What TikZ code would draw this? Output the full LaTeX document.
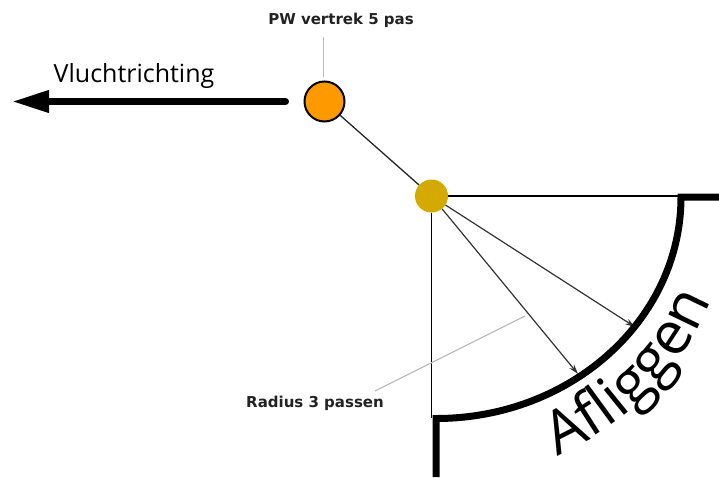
\documentclass[tikz,border=0pt]{standalone}
\usepackage{fontspec}
\usepackage{xcolor}
\usetikzlibrary{arrows.meta,decorations.text}
\newfontfamily\labelfont{DejaVu Sans}
\newfontfamily\titelfont{Open Sans}
\newcommand\afliggenfont{\titelfont\fontsize{60}{62}\selectfont}
\definecolor{pworanje}{HTML}{FF9900}
\definecolor{pwgeel}{HTML}{D4AA00}
\definecolor{hulplijn}{HTML}{BBBBBB}
\definecolor{tekstgrijs}{HTML}{222222}

\begin{document}
\begin{tikzpicture}[x=1pt,y=1pt,yscale=-1,
	labeltekst/.style={font=\labelfont\bfseries\fontsize{15}{18}\selectfont, text=tekstgrijs, inner sep=0pt},
	hulp/.style={draw=hulplijn, line width=1.2pt},
	straal/.style={draw=black!80, line width=1.2pt, -{Stealth[length=10pt,width=6pt]}},
	rand/.style={line width=1.3pt}]
	\useasboundingbox (0,0) rectangle (719,477);

	%Shape: Circle
	\node (vertrek) [circle, draw, line width=2pt, fill=pworanje, minimum size=40pt, inner sep=0pt] at (324.5,101.5) {};
	%Shape: Circle
	\node (hoek) [circle, fill=pwgeel, minimum size=33pt, inner sep=0pt] at (431.5,196) {};

	\coordinate (hoekrechts) at (681,196);
	\coordinate (hoekonder) at (431.5,418);
	\coordinate (pijlboven) at (635,327);
	\coordinate (pijlonder) at (578,374);
	\coordinate (vluchtpunt) at (12,101.5);

	%Straight Lines
	\draw[rand] (hoek) -- (hoekrechts);
	\draw[rand] (hoek) -- (hoekonder);
	\draw[rand, draw=black!85] (vertrek) -- (hoek);
	%Arrows
	\draw[straal] (hoek) -- (pijlboven);
	\draw[straal] (hoek) -- (pijlonder);
	\draw[line width=7pt, line cap=round, -{Triangle[length=37pt,width=21pt]}] ([xshift=-18pt]vertrek.west) -- (vluchtpunt);

	%Shape: Arc
	\draw[line width=7pt] (436,477) -- (436,418.5) arc[start angle=90, end angle=0, x radius=245, y radius=221.5] -- (719,197);

	% Text Node
	\node (pwlabel) [labeltekst] at (341,20) {PW vertrek 5 pas};
	\coordinate (pwkop) at (323.5,37);
	\coordinate (pwvoet) at (323.5,77);
	\draw[hulp] (pwkop) -- (pwvoet);
	% Text Node
	\node (straallabel) [labeltekst] at (315,403) {Radius 3 passen};
	\coordinate (straalkop) at (375,391);
	\coordinate (straalpunt) at (525,316);
	\draw[hulp] (straalkop) -- (straalpunt);
	% Text Node
	\node (vlucht) [anchor=base, inner sep=0pt, font=\titelfont\fontsize{25}{30}\selectfont] at (134,82) {Vluchtrichting};
	% Text on arc
	\path[decorate, decoration={text along path, text align=left, text={|\afliggenfont|Afliggen}}]
		(556.9,456) arc[start angle=65.8, end angle=0, x radius=295, y radius=284];
\end{tikzpicture}
\end{document}
